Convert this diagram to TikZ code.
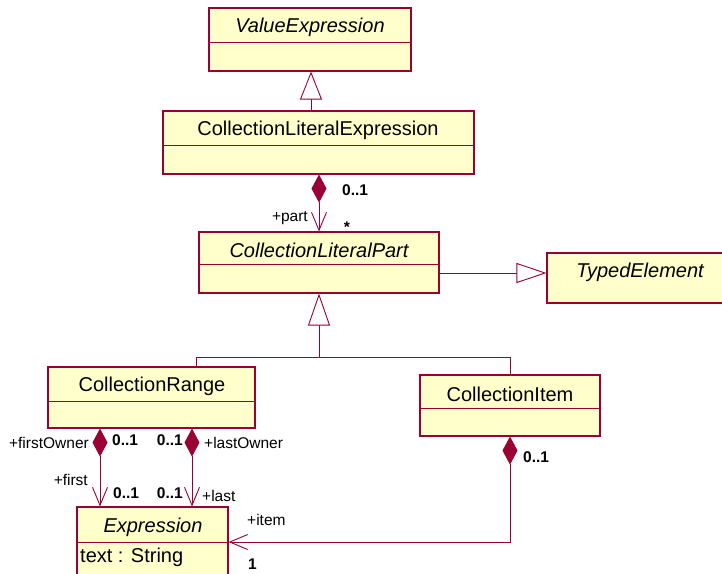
\documentclass[tikz,border=0pt]{standalone}
\usepackage{fontspec}
\setmainfont{Liberation Sans}
\usetikzlibrary{arrows.meta,fit}
\definecolor{umlline}{RGB}{153,0,51}
\definecolor{umlfill}{RGB}{255,255,204}

\begin{document}
\begin{tikzpicture}[x=1pt,y=-1pt,
  box/.style={draw=umlline, fill=umlfill, line width=1.1pt, inner sep=0pt},
  divider/.style={draw=umlline, line width=1pt},
  title/.style={font=\fontsize{20}{24}\selectfont, inner sep=0pt},
  abstract/.style={font=\fontsize{20}{24}\selectfont\itshape, inner sep=0pt},
  attr/.style={font=\fontsize{20}{24}\selectfont, inner sep=0pt, anchor=west},
  role/.style={font=\fontsize{15.5}{18}\selectfont, inner sep=0pt},
  mult/.style={font=\fontsize{15.5}{18}\selectfont\bfseries, inner sep=0pt},
  conn/.style={draw=umlline, line width=0.9pt},
  gen/.style={conn, -{Triangle[open, fill=white, length=28pt, width=22pt]}},
  comp/.style={conn, {Diamond[fill=umlline, length=28pt, width=15pt]}-{Straight Barb[length=18pt, width=15pt]}},
]
\useasboundingbox (0,0) rectangle (722,573);
\fill[white] (0,0) rectangle (722,573);
\clip (0,0) rectangle (722,573);

% classes
\node[box, fit={(209,8) (411,71)}] (ve) {};
\draw[divider] (ve.west |- 0,42) -- (ve.east |- 0,42);
\node[abstract] (veName) at (310,27) {ValueExpression};

\node[box, fit={(163,111) (474,174)}] (cle) {};
\draw[divider] (cle.west |- 0,145) -- (cle.east |- 0,145);
\node[title] (cleName) at (318,130) {CollectionLiteralExpression};

\node[box, fit={(199,232) (439,293)}] (clp) {};
\draw[divider] (clp.west |- 0,264) -- (clp.east |- 0,264);
\node[abstract] (clpName) at (319,250) {CollectionLiteralPart};

\node[box, fit={(547,253) (740,303)}] (te) {};
\node[abstract] (teName) at (640,272) {TypedElement};

\node[box, fit={(48,367) (255,428)}] (cr) {};
\draw[divider] (cr.west |- 0,401) -- (cr.east |- 0,401);
\node[title] (crName) at (152,386) {CollectionRange};

\node[box, fit={(420,375) (600,436)}] (ci) {};
\draw[divider] (ci.west |- 0,408) -- (ci.east |- 0,408);
\node[title] (ciName) at (510,394) {CollectionItem};

\node[box, fit={(77,507) (228,595)}] (ex) {};
\draw[divider] (ex.west |- 0,542) -- (ex.east |- 0,542);
\node[abstract] (exName) at (153,527) {Expression};
\node[attr] (exAttr) at (80,557) {text : String};

% generalizations
\draw[gen] (cle.north -| 311,0) -- (ve.south -| 311,0);
\draw[conn, -{Triangle[open, fill=white, length=30pt, width=20pt]}]
  (clp.east |- 0,273) -- (te.west |- 0,273);
\coordinate (fork) at (319,357);
\draw[conn] (cr.north -| 196,0) |- (fork);
\draw[conn] (ci.north -| 510,0) |- (fork);
\draw[conn, -{Triangle[open, fill=white, length=32pt, width=22pt]}] (fork) -- (clp.south);

% compositions
\draw[comp] (cle.south -| 319,0) -- (clp.north -| 319,0);
\draw[comp] (cr.south -| 100,0) -- (ex.north -| 100,0);
\draw[comp] (cr.south -| 192,0) -- (ex.north -| 192,0);
\draw[comp] (ci.south -| 510,0) |- (ex.east |- 0,542);

% association end labels
\node[mult, anchor=west] (m1) at (342,190) {0..1};
\node[role, anchor=east] (rPart) at (308,218) {+part};
\node[mult] (m2) at (347,227) {*};

\node[role, anchor=east] (rFirstOwner) at (89,443) {+firstOwner};
\node[mult, anchor=west] (m3) at (112,440) {0..1};
\node[mult, anchor=east] (m4) at (183,440) {0..1};
\node[role, anchor=west] (rLastOwner) at (204,443) {+lastOwner};

\node[role, anchor=east] (rFirst) at (88,480) {+first};
\node[mult, anchor=west] (m5) at (113,493) {0..1};
\node[mult, anchor=east] (m6) at (183,493) {0..1};
\node[role, anchor=west] (rLast) at (202,496) {+last};

\node[mult, anchor=west] (m7) at (523,457) {0..1};
\node[role, anchor=west] (rItem) at (247,520) {+item};
\node[mult, anchor=west] (m8) at (248,564) {1};
\end{tikzpicture}
\end{document}
